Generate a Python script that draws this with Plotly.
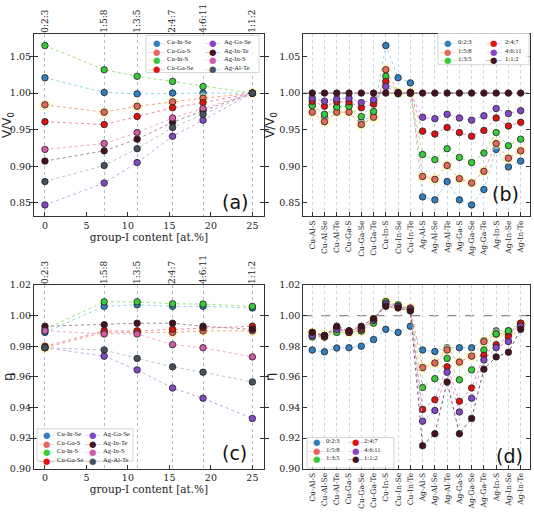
import plotly.graph_objects as go

# ---------------- data ----------------
systems = ["Cu-Al-S", "Cu-Al-Se", "Cu-Al-Te", "Cu-Ga-S", "Cu-Ga-Se", "Cu-Ga-Te",
           "Cu-In-S", "Cu-In-Se", "Cu-In-Te", "Ag-Al-S", "Ag-Al-Se", "Ag-Al-Te",
           "Ag-Ga-S", "Ag-Ga-Se", "Ag-Ga-Te", "Ag-In-S", "Ag-In-Se", "Ag-In-Te"]
ratio_labels = ["0:2:3", "1:5:8", "1:3:5", "2:4:7", "4:6:11", "1:1:2"]
group_I_content = [0.0, 7.14, 11.11, 15.38, 19.05, 25.0]
x_ticks_content = [0, 5, 10, 15, 20, 25]

# V/V0 per composition ratio (one value per system)
vol_023 = [0.984, 0.967, 0.981, 0.984, 0.961, 0.970, 1.065, 1.021, 1.014,
           0.858, 0.854, 0.879, 0.854, 0.847, 0.868, 0.923, 0.899, 0.907]
vol_158 = [0.974, 0.961, 0.974, 0.974, 0.957, 0.967, 1.032, 1.001, 1.001,
           0.886, 0.882, 0.901, 0.883, 0.877, 0.893, 0.931, 0.911, 0.921]
vol_135 = [0.983, 0.971, 0.981, 0.982, 0.968, 0.975, 1.023, 0.999, 1.000,
           0.916, 0.909, 0.924, 0.912, 0.905, 0.918, 0.946, 0.928, 0.937]
vol_247 = [0.989, 0.982, 0.988, 0.988, 0.980, 0.985, 1.016, 1.000, 1.001,
           0.948, 0.944, 0.953, 0.946, 0.941, 0.949, 0.966, 0.955, 0.960]
vol_4611 = [0.993, 0.989, 0.992, 0.993, 0.987, 0.991, 1.009, 1.000, 1.000,
            0.967, 0.965, 0.971, 0.966, 0.963, 0.969, 0.979, 0.972, 0.976]
vol_112 = [1.000, 1.000, 1.000, 1.000, 1.000, 1.000, 1.000, 1.000, 1.000,
           1.000, 1.000, 1.000, 1.000, 1.000, 1.000, 1.000, 1.000, 1.000]

# eta per composition ratio
eta_023 = [0.9775, 0.9763, 0.9788, 0.979, 0.980, 0.9843, 0.991, 0.989, 0.993,
           0.9775, 0.9765, 0.979, 0.979, 0.979, 0.9837, 0.990, 0.990, 0.993]
eta_158 = [0.989, 0.987, 0.991, 0.989, 0.990, 0.997, 1.009, 1.006, 1.005,
           0.966, 0.969, 0.9775, 0.9696, 0.9735, 0.983, 0.988, 0.988, 0.994]
eta_135 = [0.986, 0.986, 0.989, 0.989, 0.990, 0.995, 1.009, 1.007, 1.004,
           0.953, 0.9588, 0.972, 0.958, 0.9645, 0.9775, 0.988, 0.990, 0.995]
eta_247 = [0.987, 0.986, 0.992, 0.989, 0.991, 0.997, 1.0077, 1.006, 1.004,
           0.9387, 0.945, 0.9665, 0.944, 0.9527, 0.974, 0.981, 0.986, 0.995]
eta_4611 = [0.987, 0.987, 0.991, 0.990, 0.992, 0.997, 1.0075, 1.006, 1.004,
            0.931, 0.938, 0.963, 0.937, 0.946, 0.971, 0.979, 0.983, 0.993]
eta_112 = [0.989, 0.987, 0.993, 0.990, 0.993, 0.998, 1.006, 1.005, 1.003,
           0.915, 0.9228, 0.9566, 0.9228, 0.9328, 0.965, 0.973, 0.976, 0.991]

vol_by_ratio = [vol_023, vol_158, vol_135, vol_247, vol_4611, vol_112]
eta_by_ratio = [eta_023, eta_158, eta_135, eta_247, eta_4611, eta_112]

selected_systems = ["Cu-In-Se", "Cu-Ga-S", "Cu-In-S", "Cu-Ga-Se",
                    "Ag-Ga-Se", "Ag-In-Te", "Ag-In-S", "Ag-Al-Te"]

# ---------------- styles ----------------
ratio_marker_colors = ["#2f7fc1", "#e8675c", "#37cc37", "#e0120f", "#8547c8", "#45111f"]
ratio_line_colors = ["#8fd3ea", "#f6a57c", "#9de47c", "#f28ab4", "#c9a2ea", "#7a5a68"]
sys_marker_colors = ["#2f7fc1", "#e8675c", "#37cc37", "#e0120f",
                     "#8547c8", "#45111f", "#d35aa6", "#47525c"]
sys_line_colors = ["#8fd3ea", "#f6a57c", "#9de47c", "#f28ab4",
                   "#c9a2ea", "#a88a98", "#f2a6d4", "#b9c2cb"]
HALO = "rgba(255,238,150,0.55)"

W, H = 534, 517
SERIF = "DejaVu Serif"
SANS = "DejaVu Sans"
LEGF = "Liberation Serif"


def fx(p):
    return p / W


def fy(p):
    return 1 - p / H


fig = go.Figure()


def add_series(xs, ys, name, mc, lc, xa, ya, halo=False):
    if halo:
        fig.add_trace(go.Scatter(x=xs, y=ys, mode="markers", xaxis=xa, yaxis=ya,
                                 marker=dict(size=11, color=HALO, line=dict(width=0)),
                                 showlegend=False, hoverinfo="skip"))
    fig.add_trace(go.Scatter(x=xs, y=ys, mode="lines+markers", name=name,
                             xaxis=xa, yaxis=ya, showlegend=False,
                             line=dict(color=lc, width=1.0, dash="dot"),
                             marker=dict(size=6.5, color=mc, line=dict(color="#222", width=0.8))))


# panel (a) and (c): selected systems vs group-I content
for k, sname in enumerate(selected_systems):
    j = systems.index(sname)
    va = [vol_by_ratio[r][j] for r in range(len(ratio_labels))]
    ea = [eta_by_ratio[r][j] for r in range(len(ratio_labels))]
    add_series(group_I_content, va, sname, sys_marker_colors[k], sys_line_colors[k], "x", "y", halo=(k == 1))
    add_series(group_I_content, ea, sname, sys_marker_colors[k], sys_line_colors[k], "x3", "y3", halo=(k == 1))

# panel (b) and (d): per composition ratio vs system
for r, rl in enumerate(ratio_labels):
    add_series(systems, vol_by_ratio[r], rl, ratio_marker_colors[r], ratio_line_colors[r], "x2", "y2", halo=(r == 1))
for r, rl in enumerate(ratio_labels):
    add_series(systems, eta_by_ratio[r], rl, ratio_marker_colors[r], ratio_line_colors[r], "x4", "y4", halo=(r == 1))

# empty traces to register the top axes
fig.add_trace(go.Scatter(x=[], y=[], xaxis="x5", yaxis="y", showlegend=False))
fig.add_trace(go.Scatter(x=[], y=[], xaxis="x6", yaxis="y3", showlegend=False))

# ---------------- axes ----------------
LX = [fx(34), fx(264)]
RX = [fx(303.3), fx(530)]
TY = [fy(215), fy(28.3)]
BY = [fy(472.7), fy(285)]

base = dict(showline=True, linecolor="#333", linewidth=1.2, mirror=True,
            ticks="inside", ticklen=4, tickcolor="#333", zeroline=False,
            tickfont=dict(family=SERIF, size=9.5, color="#222"), showgrid=False)

xrange_c = [-1.32, 26.4]
xrange_s = [-0.73, 17.76]
vol_range = [0.8313, 1.0813]
eta_range = [0.90, 1.02]
vol_ticks = [0.85, 0.90, 0.95, 1.00, 1.05]
eta_ticks = [0.90, 0.92, 0.94, 0.96, 0.98, 1.00, 1.02]

xtitle = dict(text="group-I content [at.%]", font=dict(family=SERIF, size=10.5, color="#222"), standoff=1)

cat_axis = dict(base, type="category", range=xrange_s, tickangle=-90,
                tickfont=dict(family=SERIF, size=7.6, color="#222"),
                showgrid=True, gridcolor="#c9d6e3", griddash="dot", gridwidth=1)

top_axis = dict(side="top", range=xrange_c, tickvals=group_I_content,
                ticktext=ratio_labels, tickangle=-90, showline=False, ticks="",
                tickfont=dict(family=SERIF, size=9, color="#222"),
                showgrid=True, gridcolor="#a9bdd3", griddash="dot", gridwidth=1, zeroline=False)

fig.update_layout(
    xaxis=dict(base, domain=LX, anchor="y", range=xrange_c, tickvals=x_ticks_content, title=xtitle),
    yaxis=dict(base, domain=TY, anchor="x", range=vol_range, tickvals=vol_ticks, tickformat=".2f",
               mirror="allticks",
               title=dict(text="V/V<sub>0</sub>", font=dict(family=SANS, size=12, color="#222"), standoff=1)),
    xaxis2=dict(cat_axis, domain=RX, anchor="y2"),
    yaxis2=dict(base, domain=TY, anchor="x2", range=vol_range, tickvals=vol_ticks, tickformat=".2f",
                mirror="allticks",
                title=dict(text="V/V<sub>0</sub>", font=dict(family=SANS, size=12, color="#222"), standoff=1)),
    xaxis3=dict(base, domain=LX, anchor="y3", range=xrange_c, tickvals=x_ticks_content, title=xtitle),
    yaxis3=dict(base, domain=BY, anchor="x3", range=eta_range, tickvals=eta_ticks, tickformat=".2f",
                mirror="allticks",
                title=dict(text="η", font=dict(family=SANS, size=13, color="#222"), standoff=1)),
    xaxis4=dict(cat_axis, domain=RX, anchor="y4"),
    yaxis4=dict(base, domain=BY, anchor="x4", range=eta_range, tickvals=eta_ticks, tickformat=".2f",
                mirror="allticks",
                title=dict(text="η", font=dict(family=SANS, size=13, color="#222"), standoff=1)),
    xaxis5=dict(top_axis, anchor="y", overlaying="x"),
    xaxis6=dict(top_axis, anchor="y3", overlaying="x3"),
    width=W, height=H, margin=dict(l=0, r=0, t=0, b=0),
    paper_bgcolor="white", plot_bgcolor="white", showlegend=False,
)

# reference line at 1.0 in (b) and (d)
for xr, yr in [("x2", "y2"), ("x4", "y4")]:
    fig.add_shape(type="line", xref=xr + " domain", yref=yr, x0=0, x1=1, y0=1.0, y1=1.0,
                  line=dict(color="#8a8a8a", width=1.2, dash="dash"), layer="below")

# ---------------- legends (frame + entries) ----------------
annotations = []
shapes = []
LEG_SIZE = 6.6  # line height = 1.3 * size ~ 8.6 px


def draw_legend(names, mcs, lcs, box, col_marker, col_text, top, nrows):
    shapes.append(dict(type="rect", xref="paper", yref="paper",
                       x0=fx(box[0]), x1=fx(box[2]), y0=fy(box[3]), y1=fy(box[1]),
                       line=dict(color="#d4d4d4", width=1), fillcolor="rgba(255,255,255,0.85)",
                       layer="above"))
    ncols = (len(names) + nrows - 1) // nrows
    for c in range(ncols):
        idx = list(range(c * nrows, min((c + 1) * nrows, len(names))))
        handles = "<br>".join(
            f"<span style='color:{lcs[i]}'>┄</span>"
            f"<span style='color:{mcs[i]};font-size:8.5px'>●</span>"
            f"<span style='color:{lcs[i]}'>┄</span>" for i in idx)
        labels = "<br>".join(names[i] for i in idx)
        annotations.append(dict(x=fx(col_marker[c]), y=fy(top), xref="paper", yref="paper",
                                text=handles, showarrow=False, xanchor="center", yanchor="top",
                                align="center", borderpad=0,
                                font=dict(family=SANS, size=LEG_SIZE)))
        annotations.append(dict(x=fx(col_text[c]), y=fy(top), xref="paper", yref="paper",
                                text=labels, showarrow=False, xanchor="left", yanchor="top",
                                align="left", borderpad=0,
                                font=dict(family=LEGF, size=LEG_SIZE, color="#222")))


draw_legend(selected_systems, sys_marker_colors, sys_line_colors,
            (146, 30, 259, 68), [156, 212], [166, 223], 31.5, 4)
draw_legend(ratio_labels, ratio_marker_colors, ratio_line_colors,
            (438, 28, 529, 60), [447, 493], [457, 504], 31.3, 3)
draw_legend(selected_systems, sys_marker_colors, sys_line_colors,
            (37, 432, 133, 465), [46, 92], [56, 102], 431.7, 4)
draw_legend(ratio_labels, ratio_marker_colors, ratio_line_colors,
            (307, 441, 394, 472), [316, 355], [325, 363], 439.8, 3)

# panel labels
for lab, px, py in [("(a)", 235, 200), ("(b)", 505, 192), ("(c)", 234, 457), ("(d)", 509, 460)]:
    annotations.append(dict(x=fx(px), y=fy(py), xref="paper", yref="paper", text=lab,
                            showarrow=False, xanchor="center", yanchor="middle",
                            font=dict(family=SANS, size=19, color="#111")))

for s in shapes:
    fig.add_shape(**s)
fig.update_layout(annotations=annotations)

fig.write_html("out.html", config={"displayModeBar": False},
               post_script="document.body.style.margin='0';document.body.style.padding='0';")
